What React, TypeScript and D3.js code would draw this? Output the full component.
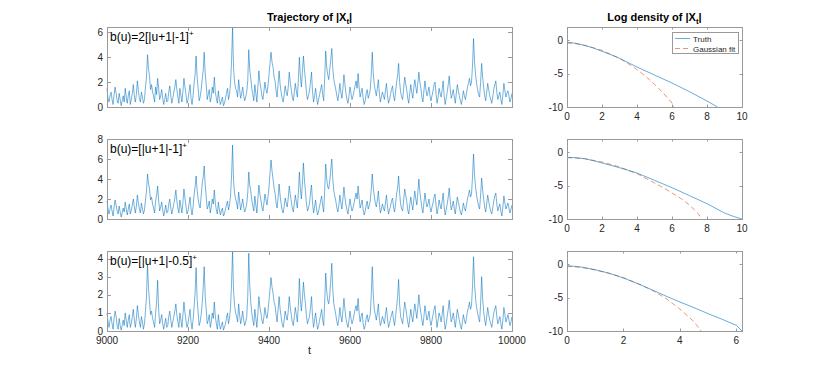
import React from "react";
import * as d3 from "d3";

// ---------- data ----------
const T_START = 9000;
const T_STEP = 2.5;
const timeTicks = [9000, 9200, 9400, 9600, 9800, 10000];

const traj1 = [
  1.5, 0.7, 0.4, 0.9, 1.2, 0.6, 0.2, 1.0, 1.6, 1.1, 0.5, 0.3, 1.1, 0.6, 0.1, 0.5, 0.9, 0.4, 1.5, 0.8,
  0.3, 0.9, 1.3, 0.2, 0.6, 1.1, 1.8, 0.9, 0.4, 1.0, 2.1, 1.3, 0.7, 0.4, 1.2, 0.8, 0.3, 0.6, 1.6, 2.4,
  4.2, 3.1, 2.5, 1.4, 1.8, 1.2, 0.9, 0.4, 1.6, 1.0, 2.3, 1.5, 0.6, 0.9, 1.4, 0.7, 0.2, 0.6, 1.1, 0.4,
  0.5, 1.2, 1.7, 0.9, 0.3, 0.7, 1.2, 1.6, 2.2, 1.4, 0.8, 0.3, 1.5, 0.9, 0.4, 1.3, 2.3, 1.6, 1.0, 0.3,
  0.6, 1.2, 1.8, 0.7, 0.2, 0.9, 1.9, 2.6, 4.1, 2.4, 1.5, 0.5, 0.8, 1.4, 2.2, 2.9, 4.4, 2.7, 1.8, 0.6,
  1.0, 1.4, 0.4, 0.8, 1.6, 1.1, 2.4, 1.2, 0.7, 0.3, 1.3, 0.6, 0.2, 0.5, 0.8, 0.1, 0.3, 0.7, 1.1, 1.5,
  0.6, 1.0, 1.9, 3.6, 6.4, 3.1, 2.0, 1.5, 1.3, 0.8, 2.2, 1.4, 0.7, 1.1, 1.6, 0.9, 0.5, 0.8, 1.2, 2.1,
  4.6, 3.0, 2.3, 1.5, 1.0, 0.5, 1.8, 1.1, 0.4, 1.6, 2.9, 2.0, 1.5, 0.9, 0.6, 1.3, 2.0, 1.4, 1.1, 1.7,
  2.6, 3.5, 4.4, 3.6, 3.2, 2.4, 2.1, 1.3, 0.8, 1.9, 2.9, 1.8, 1.2, 0.7, 0.4, 1.0, 1.7, 1.2, 0.9, 1.6,
  2.8, 2.0, 1.4, 0.8, 0.5, 1.2, 1.9, 1.3, 0.8, 2.2, 4.0, 2.5, 1.6, 2.8, 4.1, 3.0, 2.2, 1.1, 0.6, 0.9,
  1.3, 2.0, 2.8, 1.2, 0.4, 0.9, 1.5, 0.8, 0.2, 0.6, 1.0, 1.4, 1.8, 1.0, 0.5, 2.3, 4.5, 3.2, 2.6, 2.2,
  3.0, 3.8, 4.7, 3.1, 2.2, 1.8, 1.4, 0.9, 0.5, 1.1, 1.9, 1.2, 0.7, 1.5, 2.6, 1.8, 1.1, 0.6, 0.3, 0.9,
  1.6, 1.1, 0.6, 0.9, 1.3, 1.7, 2.1, 1.5, 2.7, 1.6, 0.8, 1.2, 1.5, 0.7, 0.2, 0.5, 1.1, 1.4, 0.7, 1.0,
  1.4, 2.6, 4.4, 2.7, 1.8, 1.3, 0.9, 1.5, 2.2, 1.1, 0.4, 0.8, 1.2, 0.9, 0.6, 1.3, 1.9, 1.0, 0.3, 0.6,
  1.0, 1.4, 1.7, 0.9, 0.5, 1.2, 2.0, 2.5, 3.5, 2.0, 1.2, 0.8, 0.6, 1.5, 2.4, 1.9, 1.4, 0.7, 0.3, 1.1,
  1.8, 1.2, 0.7, 1.5, 2.2, 1.6, 1.1, 1.9, 2.8, 2.0, 1.5, 0.8, 0.4, 1.3, 2.1, 1.4, 0.9, 1.2, 1.6, 0.9,
  0.5, 0.9, 1.3, 1.8, 2.0, 1.0, 0.3, 0.8, 1.5, 1.1, 0.8, 1.4, 2.1, 0.9, 0.2, 0.7, 1.2, 1.8, 2.5, 1.4,
  0.7, 1.0, 1.4, 0.8, 0.3, 1.1, 1.8, 1.3, 0.9, 0.5, 0.2, 0.7, 1.3, 0.9, 0.6, 1.1, 1.6, 1.9, 2.3, 1.7,
  2.0, 3.3, 5.5, 3.6, 2.6, 1.9, 1.4, 1.0, 0.8, 2.0, 3.5, 2.4, 1.6, 0.9, 0.5, 1.2, 1.9, 1.4, 0.9, 0.6,
  0.3, 0.8, 1.4, 1.8, 2.1, 1.2, 0.6, 0.9, 1.2, 0.6, 0.2, 1.0, 1.9, 1.3, 0.8, 1.1, 1.3, 0.9, 0.4, 0.7,
  1.1,
];

const traj2 = [
  1.8, 1.0, 0.5, 1.0, 1.4, 0.8, 0.3, 1.2, 1.9, 1.4, 0.8, 0.5, 1.3, 0.7, 0.2, 0.6, 1.1, 0.7, 1.7, 1.0,
  0.4, 1.0, 1.5, 0.5, 0.9, 1.4, 2.0, 1.2, 0.6, 1.3, 2.4, 1.6, 1.0, 0.6, 1.6, 1.0, 0.5, 0.9, 1.9, 2.8,
  4.5, 3.6, 3.0, 1.9, 2.2, 1.5, 1.1, 0.6, 1.8, 2.4, 3.3, 1.9, 0.8, 1.2, 1.7, 0.9, 0.3, 0.8, 1.4, 0.6,
  0.7, 1.5, 2.0, 1.1, 0.5, 1.0, 1.5, 2.1, 2.9, 1.8, 1.1, 0.6, 1.9, 1.2, 0.6, 1.7, 3.0, 2.1, 1.3, 0.5,
  0.8, 1.5, 2.2, 1.0, 0.4, 1.2, 2.4, 3.2, 4.3, 2.9, 2.0, 1.4, 1.1, 2.3, 3.5, 4.2, 5.3, 3.4, 2.2, 1.0,
  1.3, 1.8, 0.6, 1.2, 2.0, 1.5, 2.9, 1.6, 0.9, 0.5, 1.7, 0.9, 0.4, 0.8, 1.1, 0.3, 0.5, 1.0, 1.4, 1.8,
  0.9, 1.4, 2.3, 4.2, 7.4, 3.8, 2.6, 2.0, 1.6, 1.0, 2.7, 1.8, 0.9, 1.4, 2.0, 1.2, 0.7, 1.0, 1.5, 2.6,
  4.7, 3.4, 2.8, 1.9, 1.3, 0.8, 2.3, 1.4, 0.6, 2.0, 3.4, 2.5, 1.9, 1.2, 0.8, 1.6, 2.5, 1.9, 1.4, 2.2,
  3.2, 4.6, 5.9, 4.8, 4.0, 3.1, 2.6, 1.6, 1.1, 2.2, 3.5, 2.3, 1.5, 0.9, 0.6, 1.3, 2.1, 1.6, 1.2, 2.1,
  3.3, 2.5, 1.8, 1.1, 0.7, 1.5, 2.4, 1.7, 1.1, 2.6, 4.7, 3.0, 2.0, 3.6, 5.6, 3.9, 2.8, 1.5, 0.8, 1.1,
  1.6, 2.6, 3.4, 1.6, 0.6, 1.2, 1.9, 1.0, 0.4, 0.8, 1.3, 1.8, 2.3, 1.3, 0.7, 2.9, 5.5, 4.0, 3.2, 3.0,
  3.8, 4.9, 6.0, 4.0, 2.8, 2.3, 1.8, 1.1, 0.7, 1.4, 2.4, 1.6, 1.0, 2.0, 3.2, 2.2, 1.4, 0.9, 0.5, 1.3,
  2.0, 1.3, 0.8, 1.1, 1.6, 2.1, 2.6, 2.0, 3.3, 2.1, 1.1, 1.5, 1.9, 0.9, 0.4, 0.8, 1.4, 1.8, 1.0, 1.3,
  1.8, 3.0, 4.5, 3.1, 2.3, 1.6, 1.2, 1.9, 2.8, 1.5, 0.6, 1.0, 1.5, 1.1, 0.8, 1.6, 2.4, 1.3, 0.5, 0.9,
  1.3, 1.8, 2.1, 1.2, 0.7, 1.5, 2.5, 3.1, 4.3, 2.6, 1.5, 1.0, 0.8, 1.9, 3.0, 2.4, 1.8, 0.9, 0.5, 1.4,
  2.2, 1.5, 0.9, 1.9, 2.8, 2.0, 1.4, 2.6, 4.0, 2.7, 1.9, 1.1, 0.6, 1.6, 2.6, 1.8, 1.2, 1.5, 2.0, 1.2,
  0.7, 1.2, 1.6, 2.2, 2.5, 1.3, 0.5, 1.1, 1.9, 1.4, 1.0, 1.8, 2.6, 1.2, 0.4, 0.9, 1.5, 2.2, 3.1, 1.8,
  0.9, 1.3, 1.8, 1.0, 0.5, 1.4, 2.2, 1.7, 1.2, 0.7, 0.4, 0.9, 1.6, 1.1, 0.8, 1.4, 2.0, 2.4, 2.9, 2.2,
  2.5, 4.2, 6.5, 4.4, 3.2, 2.4, 1.8, 1.3, 1.0, 2.4, 4.1, 2.9, 2.0, 1.2, 0.7, 1.5, 2.4, 1.8, 1.2, 0.8,
  0.5, 1.1, 1.8, 2.3, 2.6, 1.5, 0.8, 1.2, 1.5, 0.8, 0.3, 1.2, 2.3, 1.6, 1.0, 1.3, 1.6, 1.1, 0.6, 1.0,
  1.4,
];

const traj3 = [
  1.0, 0.5, 0.2, 0.6, 0.8, 0.4, 0.1, 0.7, 1.1, 0.8, 0.3, 0.1, 0.7, 0.3, 0.05, 0.3, 0.6, 0.3, 1.0, 0.6,
  0.2, 0.6, 0.9, 0.2, 0.4, 0.8, 1.2, 0.6, 0.2, 0.7, 1.4, 0.9, 0.5, 0.2, 0.8, 0.5, 0.1, 0.4, 1.1, 1.9,
  3.7, 2.4, 1.6, 0.9, 1.1, 0.7, 0.5, 0.2, 1.0, 1.6, 2.8, 1.2, 0.4, 0.6, 0.9, 0.4, 0.1, 0.4, 0.7, 0.2,
  0.3, 0.8, 1.1, 0.6, 0.2, 0.5, 0.8, 1.1, 1.5, 0.9, 0.5, 0.2, 1.0, 0.6, 0.2, 0.9, 1.6, 1.0, 0.6, 0.2,
  0.4, 0.8, 1.2, 0.5, 0.1, 0.6, 1.3, 2.1, 3.5, 1.8, 1.0, 0.3, 0.5, 0.9, 1.5, 2.4, 3.55, 1.9, 1.2, 0.4,
  0.6, 0.9, 0.2, 0.5, 1.0, 0.7, 1.6, 0.8, 0.4, 0.1, 0.9, 0.4, 0.1, 0.3, 0.5, 0.05, 0.2, 0.4, 0.7, 1.0,
  0.4, 0.7, 1.3, 2.6, 4.42, 2.2, 1.4, 1.0, 0.8, 0.5, 1.5, 0.9, 0.4, 0.7, 1.1, 0.6, 0.3, 0.5, 0.8, 1.9,
  4.3, 2.5, 1.6, 1.0, 0.6, 0.3, 1.2, 0.7, 0.2, 1.0, 1.9, 1.3, 1.0, 0.6, 0.4, 0.8, 1.3, 0.9, 0.7, 1.1,
  1.7, 2.3, 2.95, 2.4, 2.1, 1.6, 1.4, 0.9, 0.5, 1.2, 1.9, 1.2, 0.8, 0.4, 0.2, 0.6, 1.1, 0.8, 0.6, 1.1,
  1.9, 1.3, 0.9, 0.5, 0.3, 0.8, 1.3, 0.9, 0.5, 1.4, 2.9, 1.7, 1.1, 1.8, 2.7, 2.0, 1.5, 0.8, 0.4, 0.6,
  0.8, 1.3, 1.9, 0.8, 0.2, 0.6, 1.0, 0.5, 0.1, 0.3, 0.6, 0.9, 1.2, 0.6, 0.3, 1.6, 3.2, 2.2, 1.7, 1.5,
  2.0, 2.8, 3.74, 2.3, 1.5, 1.2, 0.9, 0.5, 0.3, 0.7, 1.3, 0.8, 0.5, 1.1, 1.8, 1.2, 0.7, 0.4, 0.2, 0.6,
  1.1, 0.7, 0.4, 0.6, 0.9, 1.2, 1.4, 1.1, 1.8, 1.0, 0.5, 0.8, 1.0, 0.4, 0.1, 0.3, 0.7, 0.9, 0.5, 0.7,
  0.9, 2.0, 3.55, 2.0, 1.2, 0.9, 0.6, 1.0, 1.5, 0.7, 0.3, 0.5, 0.8, 0.6, 0.4, 0.9, 1.3, 0.7, 0.2, 0.4,
  0.7, 0.9, 1.1, 0.6, 0.3, 0.8, 1.3, 1.9, 2.85, 1.5, 0.8, 0.6, 0.4, 1.0, 1.6, 1.3, 0.9, 0.5, 0.2, 0.7,
  1.2, 0.8, 0.5, 1.0, 1.5, 1.1, 0.7, 1.3, 2.0, 1.4, 1.0, 0.6, 0.3, 0.8, 1.4, 1.0, 0.6, 0.8, 1.1, 0.6,
  0.3, 0.6, 0.9, 1.2, 1.4, 0.7, 0.2, 0.6, 1.0, 0.8, 0.5, 0.9, 1.4, 0.6, 0.1, 0.4, 0.8, 1.2, 1.7, 1.0,
  0.5, 0.7, 1.0, 0.6, 0.2, 0.7, 1.2, 0.9, 0.6, 0.3, 0.1, 0.5, 0.9, 0.6, 0.4, 0.7, 1.1, 1.3, 1.6, 1.2,
  1.4, 2.5, 4.1, 2.6, 1.8, 1.3, 1.0, 0.7, 0.5, 1.5, 3.0, 1.8, 1.1, 0.6, 0.3, 0.8, 1.3, 0.9, 0.6, 0.4,
  0.2, 0.6, 1.0, 1.2, 1.4, 0.8, 0.4, 0.6, 0.8, 0.4, 0.1, 0.6, 1.3, 0.9, 0.5, 0.7, 0.9, 0.6, 0.3, 0.5,
  0.8,
];

const traj1Ticks = [0, 2, 4, 6];
const traj2Ticks = [0, 2, 4, 6, 8];
const traj3Ticks = [0, 1, 2, 3, 4];

// log density curves
const truth1X = [0, 0.5, 1, 1.5, 2, 2.5, 3, 3.5, 4, 5, 6, 7, 8, 8.6];
const truth1Y = [-0.26, -0.45, -0.75, -1.15, -1.65, -2.15, -2.7, -3.35, -4.0, -5.2, -6.4, -7.7, -9.1, -10];
const gauss1X = [0, 0.5, 1, 1.5, 2, 2.5, 3, 3.5, 4, 4.5, 5, 5.5, 6, 6.1];
const gauss1Y = [-0.4, -0.5, -0.75, -1.1, -1.5, -2.1, -2.7, -3.5, -4.4, -5.4, -6.6, -7.9, -9.4, -10];

const truth2X = [0, 0.5, 1, 1.5, 2, 3, 4, 5, 6, 7, 8, 9, 9.5, 10];
const truth2Y = [-0.75, -0.8, -0.95, -1.25, -1.6, -2.3, -3.1, -4.2, -5.3, -6.5, -7.7, -9.1, -9.6, -10];
const gauss2X = [0, 1, 2, 3, 4, 5, 5.5, 6, 6.5, 7, 7.5, 7.7];
const gauss2Y = [-0.8, -0.95, -1.45, -2.2, -3.2, -4.6, -5.3, -6.1, -6.9, -7.9, -9.2, -10];

const truth3X = [0, 0.5, 1, 1.5, 2, 2.5, 3, 3.5, 4, 4.5, 5, 5.5, 6, 6.2];
const truth3Y = [-0.2, -0.4, -0.8, -1.35, -2.05, -2.9, -3.8, -4.75, -5.65, -6.5, -7.4, -8.25, -9.15, -10];
const gauss3X = [0, 0.5, 1, 1.5, 2, 2.5, 3, 3.5, 4, 4.5, 4.75];
const gauss3Y = [-0.3, -0.45, -0.85, -1.35, -2.0, -2.85, -3.85, -5.1, -6.7, -8.6, -10];

const densYTicks = [-10, -5, 0];
const densXTicks10 = [0, 2, 4, 6, 8, 10];
const densXTicks6 = [0, 2, 4, 6];

const labels = ["b(u)=2[|u+1|-1]", "b(u)=[|u+1|-1]", "b(u)=[|u+1|-0.5]"];
const legendLabels = ["Truth", "Gaussian fit"];

// ---------- style ----------
const FONT = "'Liberation Sans', Arial, Helvetica, sans-serif";
const TXT = "#262626";
const AX = "#9a9a9a";
const BLUE = "#0072BD";
const ORANGE = "#D95319";

const LX0 = 107, LX1 = 512;
const RX0 = 567, RX1 = 742;
const ROWS = [
  { top: 27, bottom: 107 },
  { top: 139, bottom: 219 },
  { top: 251, bottom: 331 },
];

function Box({ x0, x1, y0, y1 }: { x0: number; x1: number; y0: number; y1: number }) {
  return (
    <rect x={x0 + 0.5} y={y0 + 0.5} width={x1 - x0} height={y1 - y0} fill="none" stroke={AX} strokeWidth={1} />
  );
}

function TrajPanel({ values, row, yMax, yTicks, label, showX }: any) {
  const { top, bottom } = ROWS[row];
  const x = d3.scaleLinear().domain([9000, 10000]).range([LX0, LX1]);
  const y = d3.scaleLinear().domain([0, yMax]).range([bottom, top]);
  const line = d3
    .line<number>()
    .x((_, i) => x(T_START + i * T_STEP))
    .y((d) => y(d));
  const tl = 4;
  return (
    <g>
      <rect x={LX0} y={top} width={LX1 - LX0} height={bottom - top} fill="#fff" />
      <path d={line(values) || ""} fill="none" stroke={BLUE} strokeWidth={0.55} strokeLinejoin="round" />
      {yTicks.map((t: number) => (
        <g key={"y" + t}>
          <line x1={LX0} x2={LX0 + tl} y1={Math.round(y(t)) + 0.5} y2={Math.round(y(t)) + 0.5} stroke={AX} />
          <line x1={LX1 - tl} x2={LX1} y1={Math.round(y(t)) + 0.5} y2={Math.round(y(t)) + 0.5} stroke={AX} />
          <text x={LX0 - 4} y={y(t) + 3.5} fontSize={10} textAnchor="end" fill={TXT} fontFamily={FONT}>
            {t}
          </text>
        </g>
      ))}
      {timeTicks.map((t) => (
        <g key={"x" + t}>
          <line x1={Math.round(x(t)) + 0.5} x2={Math.round(x(t)) + 0.5} y1={bottom} y2={bottom - tl} stroke={AX} />
          <line x1={Math.round(x(t)) + 0.5} x2={Math.round(x(t)) + 0.5} y1={top} y2={top + tl} stroke={AX} />
          {showX && (
            <text x={x(t)} y={bottom + 13} fontSize={10} textAnchor="middle" fill={TXT} fontFamily={FONT}>
              {t}
            </text>
          )}
        </g>
      ))}
      <Box x0={LX0} x1={LX1} y0={top} y1={bottom} />
      <text x={LX0 + 3} y={top + 14} fontSize={12} fill="#000" fontFamily={FONT}>
        {label}
        <tspan dy={-5} fontSize={8}>+</tspan>
      </text>
    </g>
  );
}

function DensPanel({ row, tx, ty, gx, gy, xMax, xTicks, legend }: any) {
  const { top, bottom } = ROWS[row];
  const x = d3.scaleLinear().domain([0, xMax]).range([RX0, RX1]);
  const y = d3.scaleLinear().domain([-10, 2]).range([bottom, top]);
  const mk = (xs: number[], ys: number[]) =>
    d3
      .line<number>()
      .x((d) => x(d))
      .y((_, i) => y(ys[i]))(xs) || "";
  const tl = 2.5;
  return (
    <g>
      <rect x={RX0} y={top} width={RX1 - RX0} height={bottom - top} fill="#fff" />
      <path d={mk(gx, gy)} fill="none" stroke={ORANGE} strokeOpacity={0.75} strokeWidth={0.8} strokeDasharray="5,3" />
      <path d={mk(tx, ty)} fill="none" stroke={BLUE} strokeOpacity={0.75} strokeWidth={0.8} />
      {densYTicks.map((t) => (
        <g key={"y" + t}>
          <line x1={RX0} x2={RX0 + tl} y1={Math.round(y(t)) + 0.5} y2={Math.round(y(t)) + 0.5} stroke={AX} />
          <line x1={RX1 - tl} x2={RX1} y1={Math.round(y(t)) + 0.5} y2={Math.round(y(t)) + 0.5} stroke={AX} />
          <text x={RX0 - 4} y={y(t) + 3.5} fontSize={10} textAnchor="end" fill={TXT} fontFamily={FONT}>
            {t}
          </text>
        </g>
      ))}
      {xTicks.map((t: number) => (
        <g key={"x" + t}>
          <line x1={Math.round(x(t)) + 0.5} x2={Math.round(x(t)) + 0.5} y1={bottom} y2={bottom - tl} stroke={AX} />
          <line x1={Math.round(x(t)) + 0.5} x2={Math.round(x(t)) + 0.5} y1={top} y2={top + tl} stroke={AX} />
          <text x={x(t)} y={bottom + 13} fontSize={10} textAnchor="middle" fill={TXT} fontFamily={FONT}>
            {t}
          </text>
        </g>
      ))}
      <Box x0={RX0} x1={RX1} y0={top} y1={bottom} />
      {legend && (
        <g fontFamily={FONT} fontSize={8} fill={TXT}>
          <rect x={672.5} y={32.5} width={66} height={21} fill="#fff" stroke={AX} />
          <line x1={675} x2={690} y1={38.5} y2={38.5} stroke={BLUE} strokeOpacity={0.75} strokeWidth={0.8} />
          <text x={693} y={41.5}>{legendLabels[0]}</text>
          <line x1={675} x2={690} y1={48.5} y2={48.5} stroke={ORANGE} strokeOpacity={0.75} strokeWidth={0.8} strokeDasharray="5,3" />
          <text x={693} y={51.5}>{legendLabels[1]}</text>
        </g>
      )}
    </g>
  );
}

export default function App() {
  return (
    <svg
      width={820}
      height={372}
      style={{ position: "absolute", left: 0, top: 0, background: "#fff" }}
    >
      <rect width={820} height={372} fill="#fff" />
      <text x={(LX0 + LX1) / 2} y={21} fontSize={11} fontWeight="bold" textAnchor="middle" fill="#000" fontFamily={FONT}>
        Trajectory of |X<tspan dy={3} fontSize={8}>t</tspan><tspan dy={-3}>|</tspan>
      </text>
      <text x={(RX0 + RX1) / 2} y={21} fontSize={11} fontWeight="bold" textAnchor="middle" fill="#000" fontFamily={FONT}>
        Log density of |X<tspan dy={3} fontSize={8}>t</tspan><tspan dy={-3}>|</tspan>
      </text>
      <TrajPanel values={traj1} row={0} yMax={6.43} yTicks={traj1Ticks} label={labels[0]} showX={false} />
      <TrajPanel values={traj2} row={1} yMax={8} yTicks={traj2Ticks} label={labels[1]} showX={false} />
      <TrajPanel values={traj3} row={2} yMax={4.42} yTicks={traj3Ticks} label={labels[2]} showX={true} />
      <text x={(LX0 + LX1) / 2} y={354} fontSize={11} textAnchor="middle" fill={TXT} fontFamily={FONT}>
        t
      </text>
      <DensPanel row={0} tx={truth1X} ty={truth1Y} gx={gauss1X} gy={gauss1Y} xMax={10} xTicks={densXTicks10} legend={true} />
      <DensPanel row={1} tx={truth2X} ty={truth2Y} gx={gauss2X} gy={gauss2Y} xMax={10} xTicks={densXTicks10} legend={false} />
      <DensPanel row={2} tx={truth3X} ty={truth3Y} gx={gauss3X} gy={gauss3Y} xMax={6.2} xTicks={densXTicks6} legend={false} />
    </svg>
  );
}
